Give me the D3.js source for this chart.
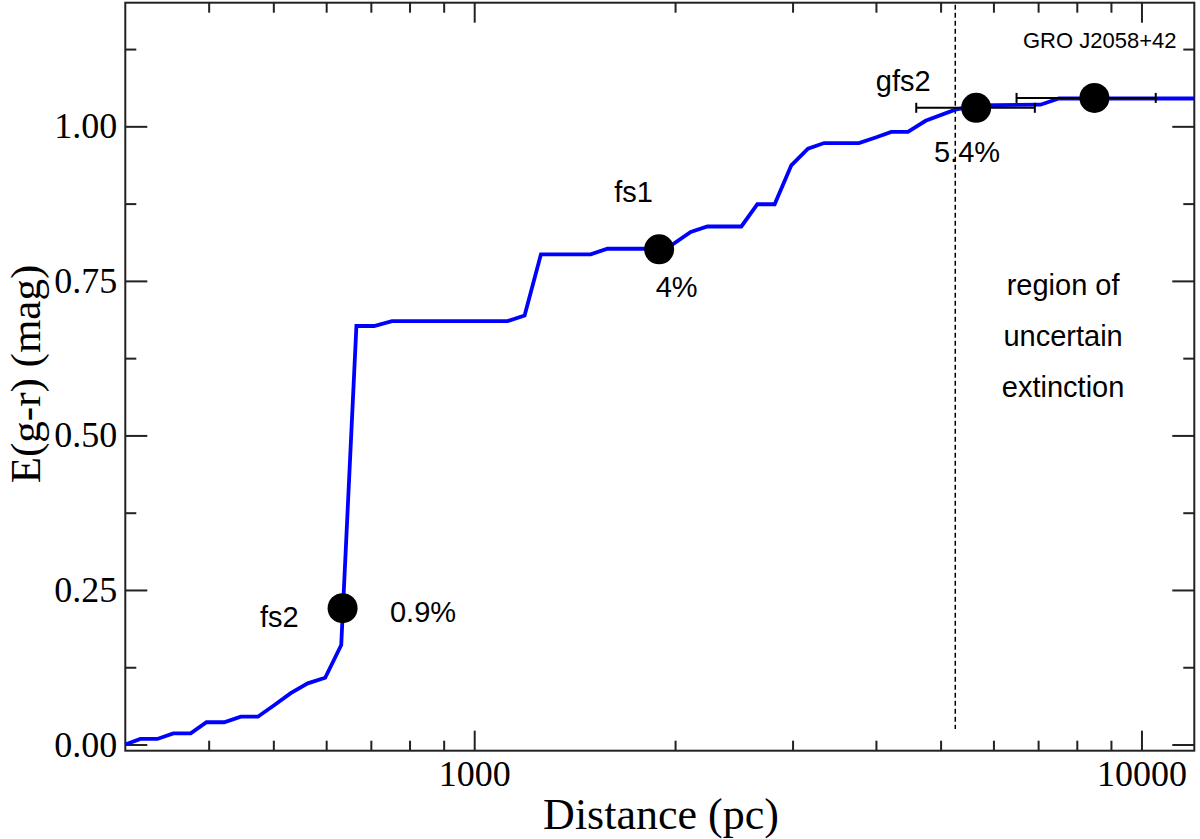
<!DOCTYPE html>
<html>
<head>
<meta charset="utf-8">
<script src="https://cdn.jsdelivr.net/npm/d3@7"></script>
<style>
  body { margin: 0; background: #fff; }
  svg { display: block; }
</style>
</head>
<body>
<svg></svg>
<script>
// extinction curve, E(g-r) vs distance
var distance = [300, 316, 335, 354, 376, 397, 422, 447, 474, 502, 531, 563, 598, 632, 666, 708, 753,
  1122, 1190, 1259, 1495, 1584, 1940, 2111, 2236, 2514, 2657, 2820, 2987, 3164, 3345, 3772,
  3996, 4217, 4467, 4748, 5260, 5650, 7060, 7520, 12000];
var extinction = [0.000, 0.009, 0.009, 0.018, 0.018, 0.036, 0.036, 0.045, 0.045, 0.064, 0.083, 0.099, 0.108, 0.161, 0.677, 0.677, 0.685,
  0.685, 0.694, 0.793, 0.793, 0.802, 0.802, 0.829, 0.838, 0.838, 0.874, 0.874, 0.937, 0.964, 0.973, 0.973,
  0.982, 0.991, 0.991, 1.009, 1.027, 1.034, 1.035, 1.045, 1.045];

// stars placed on the curve
var starNames = ["fs2", "fs1", "gfs2", "GRO J2058+42"];
var starDist = [635, 1893, 5653, 8502];
var starExt = [0.2205, 0.801, 1.030, 1.046];
var starDistLo = [null, null, 4597, 6498];
var starDistHi = [null, null, 6922, 10505];
var starPct = ["0.9%", "4%", "5.4%", ""];

var xMajorTicks = [1000, 10000];
var xMinorTicks = [400, 500, 600, 700, 800, 900, 2000, 3000, 4000, 5000, 6000, 7000, 8000, 9000];
var yMajorTicks = [0, 0.25, 0.5, 0.75, 1.0];
var yMinorTicks = [0.125, 0.375, 0.625, 0.875, 1.125];

var boundaryDist = 5260;
var regionLines = ["region of", "uncertain", "extinction"];

var screen = {width: 1200, height: 839};
var plot = {left: 125.3, right: 1194.3, top: 2.7, bottom: 750.7};

var svg = d3.select("svg")
  .attr("width", screen.width)
  .attr("height", screen.height);

var xScale = d3.scaleLog()
  .domain([300, 12000])
  .range([plot.left, plot.right]);

var yScale = d3.scaleLinear()
  .domain([-0.01, 1.2])
  .range([plot.bottom, plot.top]);

var serif = "'Liberation Serif', 'Times New Roman', serif";
var sans = "'Liberation Sans', Arial, Helvetica, sans-serif";
var axisColor = "#222";

// frame
svg.append("rect")
  .attr("x", plot.left).attr("y", plot.top)
  .attr("width", plot.right - plot.left)
  .attr("height", plot.bottom - plot.top)
  .attr("fill", "none")
  .attr("stroke", axisColor)
  .attr("stroke-width", 2);

var styleAxis = function(g){
  g.select(".domain").remove();
  g.selectAll("line").attr("stroke", axisColor).attr("stroke-width", 2);
  g.selectAll("text").attr("font-family", serif).attr("font-size", 36).attr("fill", "#000");
}

// ticks on all four sides, pointing in
var addXTicks = function(axisFn, y, ticks, size, labels){
  var ax = axisFn(xScale).tickValues(ticks).tickSize(size).tickPadding(labels ? 10 : 0)
    .tickFormat(labels ? d3.format("d") : "");
  svg.append("g").attr("transform", "translate(0," + y + ")").call(ax).call(styleAxis);
}
var addYTicks = function(axisFn, x, ticks, size, labels){
  var ax = axisFn(yScale).tickValues(ticks).tickSize(size).tickPadding(labels ? 8 : 0)
    .tickFormat(labels ? d3.format(".2f") : "");
  svg.append("g").attr("transform", "translate(" + x + ",0)").call(ax).call(styleAxis);
}

addXTicks(d3.axisBottom, plot.bottom, xMinorTicks, -10, false);
addXTicks(d3.axisBottom, plot.bottom, xMajorTicks, -20, true);
addXTicks(d3.axisTop, plot.top, xMinorTicks, -10, false);
addXTicks(d3.axisTop, plot.top, xMajorTicks, -20, false);
addYTicks(d3.axisLeft, plot.left, yMinorTicks, -11, false);
addYTicks(d3.axisLeft, plot.left, yMajorTicks, -22, true);
addYTicks(d3.axisRight, plot.right, yMinorTicks, -11, false);
addYTicks(d3.axisRight, plot.right, yMajorTicks, -22, false);

// axis titles
svg.append("text")
  .attr("x", 661).attr("y", 829)
  .attr("text-anchor", "middle")
  .attr("font-family", serif).attr("font-size", 44)
  .text("Distance (pc)");

svg.append("text")
  .attr("transform", "translate(40," + 374 + ") rotate(-90)")
  .attr("text-anchor", "middle")
  .attr("font-family", serif).attr("font-size", 43)
  .text("E(g-r) (mag)");

// boundary of reliable extinction
svg.append("line")
  .attr("x1", xScale(boundaryDist)).attr("x2", xScale(boundaryDist))
  .attr("y1", plot.top + 2).attr("y2", yScale(0.025))
  .attr("stroke", "#000")
  .attr("stroke-width", 1.5)
  .attr("stroke-dasharray", "5,3");

// extinction curve
var lineData = distance.map(function(d, i){ return [d, extinction[i]]; });
var line = d3.line()
  .x(function(d){ return xScale(d[0]); })
  .y(function(d){ return yScale(d[1]); });

svg.append("path")
  .datum(lineData)
  .attr("d", line)
  .attr("fill", "none")
  .attr("stroke", "#0000ff")
  .attr("stroke-width", 3.8)
  .attr("stroke-linejoin", "miter");

// error bars
var stars = starNames.map(function(name, i){
  return {name: name, d: starDist[i], e: starExt[i], lo: starDistLo[i], hi: starDistHi[i], pct: starPct[i]};
});
var withErr = stars.filter(function(s){ return s.lo !== null; });

var errG = svg.append("g").attr("stroke", "#000").attr("stroke-width", 2);
withErr.forEach(function(s){
  var y = yScale(s.e);
  errG.append("line").attr("x1", xScale(s.lo)).attr("x2", xScale(s.hi)).attr("y1", y).attr("y2", y);
  errG.append("line").attr("x1", xScale(s.lo)).attr("x2", xScale(s.lo)).attr("y1", y - 5).attr("y2", y + 5);
  errG.append("line").attr("x1", xScale(s.hi)).attr("x2", xScale(s.hi)).attr("y1", y - 5).attr("y2", y + 5);
});

svg.selectAll("circle.star")
  .data(stars)
  .enter()
  .append("circle")
  .attr("class", "star")
  .attr("cx", function(s){ return xScale(s.d); })
  .attr("cy", function(s){ return yScale(s.e); })
  .attr("r", 15)
  .attr("fill", "#000");

// labels next to each star (offsets in px)
var nameOffset = [[-44, 18.5, "end"], [-45, -47.7, "start"], [-45.5, -17.1, "end"], [5.3, -49.5, "middle"]];
var pctOffset = [[47.4, 13.5], [-3.5, 47.3], [-42.2, 53.9], [0, 0]];

stars.forEach(function(s, i){
  var px = xScale(s.d), py = yScale(s.e);
  svg.append("text")
    .attr("x", px + nameOffset[i][0]).attr("y", py + nameOffset[i][1])
    .attr("text-anchor", nameOffset[i][2])
    .attr("font-family", sans)
    .attr("font-size", i === 3 ? 22 : 29)
    .text(s.name);
  if (s.pct) {
    svg.append("text")
      .attr("x", px + pctOffset[i][0]).attr("y", py + pctOffset[i][1])
      .attr("font-family", sans).attr("font-size", 29)
      .text(s.pct);
  }
});

// region note
svg.selectAll("text.region")
  .data(regionLines)
  .enter()
  .append("text")
  .attr("class", "region")
  .attr("x", xScale(7630))
  .attr("y", function(d, i){ return yScale(0.727) + i * 50.8; })
  .attr("text-anchor", "middle")
  .attr("font-family", sans).attr("font-size", 29)
  .text(function(d){ return d; });
</script>
</body>
</html>
